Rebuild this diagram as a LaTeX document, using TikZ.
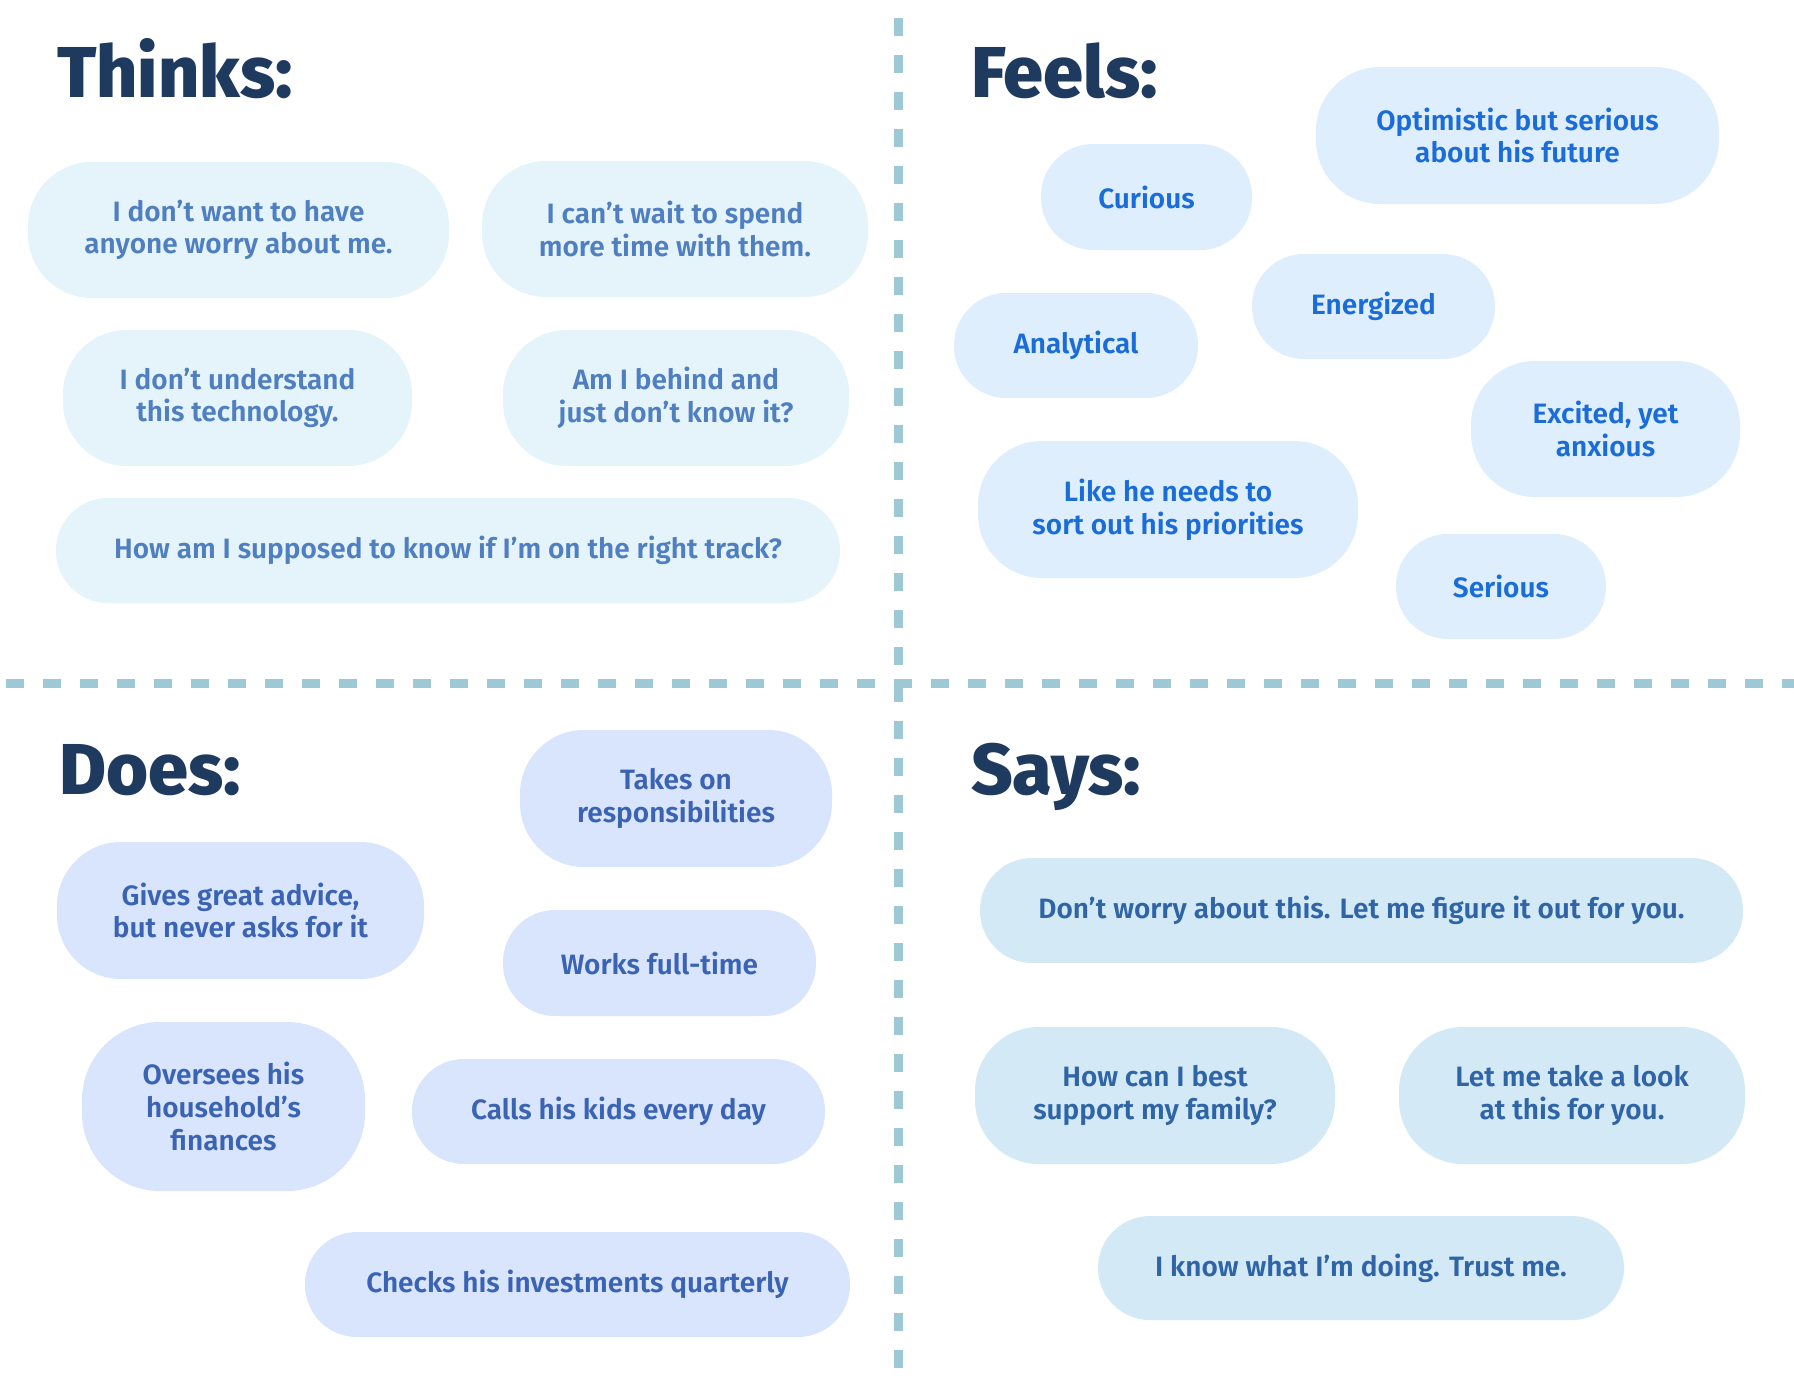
\documentclass[tikz,border=0pt]{standalone}
\usepackage{fontspec}
\setmainfont{Fira Sans}[UprightFont=* SemiBold, BoldFont=* ExtraBold]
\definecolor{headc}{HTML}{1F3A5F}
\definecolor{dashc}{HTML}{9DC8D6}
\definecolor{thkfill}{HTML}{E5F4FA}
\definecolor{thktext}{HTML}{4F7FC0}
\definecolor{felfill}{HTML}{DEEEFD}
\definecolor{feltext}{HTML}{1A6CD8}
\definecolor{dosfill}{HTML}{D8E5FD}
\definecolor{dostext}{HTML}{3B63B4}
\definecolor{sayfill}{HTML}{D3EAF6}
\definecolor{saytext}{HTML}{2F64A6}
\tikzset{
  bubble/.style={inner sep=0, align=center, font=\fontsize{28}{32.7}\selectfont},
  short/.style={rounded corners=52},
  tall/.style={rounded corners=64},
  thk/.style={bubble, fill=thkfill, text=thktext},
  fel/.style={bubble, fill=felfill, text=feltext},
  dos/.style={bubble, fill=dosfill, text=dostext},
  say/.style={bubble, fill=sayfill, text=saytext},
  heading/.style={inner sep=0, anchor=base west, text=headc, font=\bfseries\fontsize{72}{80}\selectfont},
  divider/.style={draw=dashc, line width=9, dash pattern=on 18 off 19}
}
\begin{document}
\begin{tikzpicture}[x=1pt,y=-1pt]
\useasboundingbox (0,0) rectangle (1794,1379);
% dividers
\draw[divider, dash phase=19] (898,0) -- (898,1379);
\draw[divider] (6,683) -- (1794,683);
% headings
\node[heading] (hthinks) at (57,97) {Thinks:};
\node[heading] (hfeels) at (971,97) {Feels:};
\node[heading] (hdoes) at (59,794) {Does:};
\node[heading] (hsays) at (971,794) {Says:};
% Thinks
\node[thk, tall, minimum width=421, minimum height=136] (t1) at (238.5,230) {I don’t want to have\\anyone worry about me.};
\node[thk, tall, minimum width=386, minimum height=136] (t2) at (675,229) {I can’t wait to spend\\more time with them.};
\node[thk, tall, minimum width=349, minimum height=136] (t3) at (237.5,398) {I don’t understand\\this technology.};
\node[thk, tall, minimum width=346, minimum height=136] (t4) at (676,398) {Am I behind and\\just don’t know it?};
\node[thk, short, minimum width=784, minimum height=105] (t5) at (448,550.5) {How am I supposed to know if I’m on the right track?};
% Feels
\node[fel, tall, minimum width=403, minimum height=137] (f1) at (1517.5,135.5) {Optimistic but serious\\about his future};
\node[fel, short, minimum width=211, minimum height=106] (f2) at (1146.5,197) {Curious};
\node[fel, short, minimum width=243, minimum height=105] (f3) at (1373.5,306.5) {Energized};
\node[fel, short, minimum width=244, minimum height=105] (f4) at (1076,345.5) {Analytical};
\node[fel, tall, minimum width=269, minimum height=136] (f5) at (1605.5,429) {Excited, yet\\anxious};
\node[fel, tall, minimum width=380, minimum height=137] (f6) at (1168,509.5) {Like he needs to\\sort out his priorities};
\node[fel, short, minimum width=210, minimum height=105] (f7) at (1501,586.5) {Serious};
% Does
\node[dos, tall, minimum width=312, minimum height=137] (d1) at (676,798.5) {Takes on\\responsibilities};
\node[dos, tall, minimum width=367, minimum height=137] (d2) at (240.5,910.5) {Gives great advice,\\but never asks for it};
\node[dos, short, minimum width=313, minimum height=106] (d3) at (659.5,963) {Works full-time};
\node[dos, rounded corners=78, minimum width=283, minimum height=169] (d4) at (223.5,1106.5) {Oversees his\\household’s\\finances};
\node[dos, short, minimum width=413, minimum height=105] (d5) at (618.5,1111.5) {Calls his kids every day};
\node[dos, short, minimum width=545, minimum height=105] (d6) at (577.5,1284.5) {Checks his investments quarterly};
% Says
\node[say, short, minimum width=763, minimum height=105] (s1) at (1361.5,910.5) {Don’t worry about this. Let me figure it out for you.};
\node[say, tall, minimum width=360, minimum height=137] (s2) at (1155,1095.5) {How can I best\\support my family?};
\node[say, tall, minimum width=346, minimum height=137] (s3) at (1572,1095.5) {Let me take a look\\at this for you.};
\node[say, short, minimum width=526, minimum height=104] (s4) at (1361,1268) {I know what I’m doing. Trust me.};
\end{tikzpicture}
\end{document}
